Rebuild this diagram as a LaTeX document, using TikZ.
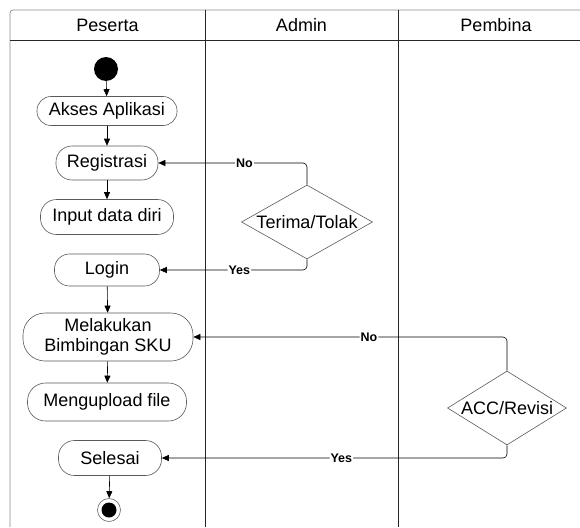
\documentclass[tikz,border=0pt]{standalone}
\usepackage{fontspec}
\setmainfont{Liberation Sans}
\usetikzlibrary{arrows.meta, shapes.geometric}

\begin{document}
\begin{tikzpicture}[x=1pt, y=-1pt,
    font=\fontsize{18}{20}\selectfont,
    frame/.style={line width=0.7pt, black!45},
    lane/.style={line width=0.7pt, black!85},
    activity/.style={draw, black!65, text=black, line width=0.6pt, rounded corners=16pt,
                     align=center, inner sep=2pt},
    decision/.style={draw, black!65, diamond, line width=0.6pt, inner sep=0pt},
    startnode/.style={circle, fill=black, minimum size=24pt, inner sep=0pt},
    endnode/.style={circle, draw, black!60, line width=0.6pt, minimum size=23pt, inner sep=0pt,
                    path picture={\fill[black] (path picture bounding box.center) circle (7.5pt);}},
    flow/.style={-{Triangle[length=7pt, width=6pt]}, line width=0.6pt},
    guard/.style={font=\fontsize{12.5}{14}\selectfont\bfseries, fill=white, inner sep=1pt}]

    \useasboundingbox (0,0) rectangle (580,527);

    % swimlanes
    \draw[frame, rounded corners=3pt] (10,527) -- (10,10) -- (580,10);
    \draw[lane] (10,40) -- (580,40);
    \draw[lane] (205,10) -- (205,527);
    \draw[lane] (398,10) -- (398,527);
    \node (peserta) at (107.5,25) {Peserta};
    \node (admin) at (301.5,25) {Admin};
    \node (pembina) at (496,25) {Pembina};

    % Peserta activities
    \node[startnode] (start) at (106,69) {};
    \node[activity, minimum width=140pt, minimum height=29pt, rounded corners=14pt] (akses)
        at (107,111) {Akses Aplikasi};
    \node[activity, minimum width=102pt, minimum height=34pt] (regis) at (107,163) {Registrasi};
    \node[activity, minimum width=133pt, minimum height=35pt] (input) at (107,217) {Input data diri};
    \node[activity, minimum width=105pt, minimum height=32pt, rounded corners=15pt] (login)
        at (107,270) {Login};
    \node[activity, minimum width=170pt, minimum height=48pt, rounded corners=22pt] (bimbingan)
        at (108,337) {Melakukan\\Bimbingan SKU};
    \node[activity, minimum width=159pt, minimum height=38pt, rounded corners=18pt] (upload)
        at (107,402) {Mengupload file};
    \node[activity, minimum width=103pt, minimum height=35pt] (selesai) at (110,458) {Selesai};
    \node[endnode] (finish) at (109,510) {};

    % decisions
    \node[decision, minimum width=131pt, minimum height=74pt, label=center:Terima/Tolak] (terima)
        at (307,222) {};
    \node[decision, minimum width=119pt, minimum height=74pt, label=center:ACC/Revisi] (acc)
        at (507,408) {};

    % flow
    \draw[flow] (start) -- (akses);
    \draw[flow] (akses) -- (regis);
    \draw[flow] (regis) -- (input);
    \draw[flow] (login) -- (bimbingan);
    \draw[flow] (bimbingan) -- (upload);
    \draw[flow] (selesai) -- (finish);

    \draw[flow, rounded corners=4pt] (terima.north) |- node[guard, pos=0.71] {No} (regis.east);
    \draw[flow, rounded corners=4pt] (terima.south) |- node[guard, pos=0.73] {Yes} (login.east);
    \draw[flow, rounded corners=4pt] (acc.north) |- node[guard, pos=0.72] {No} (bimbingan.east);
    \draw[flow, rounded corners=4pt] (acc.south) |- node[guard, pos=0.74] {Yes} (selesai.east);
\end{tikzpicture}
\end{document}
